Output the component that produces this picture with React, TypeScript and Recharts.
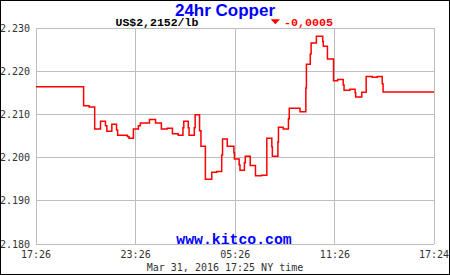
import React from 'react';
import { LineChart, Line, XAxis, YAxis, CartesianGrid } from 'recharts';

// minutes after 17:26 (Mar 30) and copper price in US$/lb
const minutes = [
  0, 172, 192, 212, 233, 251, 256, 274, 291, 295, 330, 336, 352, 370, 377, 410, 432, 453, 474, 493,
  514, 531, 534, 550, 553, 572, 575, 591, 596, 612, 635, 653, 671, 674, 691, 715, 717, 734, 737, 753,
  756, 774, 793, 815, 834, 852, 854, 874, 876, 893, 912, 915, 954, 975, 977, 991, 994, 1013, 1036, 1038,
  1053, 1075, 1090, 1110, 1113, 1134, 1153, 1155, 1177, 1193, 1215, 1233, 1251, 1254, 1438,
];
const prices = [
  2.2164, 2.212, 2.2117, 2.2066, 2.2084, 2.2074, 2.2061, 2.2077, 2.2064, 2.2052, 2.2049, 2.2045, 2.2066, 2.2074, 2.208, 2.2088, 2.208, 2.2066, 2.2068, 2.2055,
  2.2052, 2.2069, 2.2084, 2.2069, 2.2052, 2.2069, 2.2099, 2.2062, 2.2026, 2.195, 2.1966, 2.1968, 2.2006, 2.2043, 2.2026, 2.2011, 2.1997, 2.1983, 2.1971, 2.1988,
  2.2003, 2.1982, 2.1958, 2.1959, 2.2045, 2.2025, 2.2003, 2.2036, 2.207, 2.2066, 2.209, 2.2114, 2.2106, 2.2161, 2.2216, 2.224, 2.2265, 2.2281, 2.2269, 2.2258,
  2.2228, 2.2178, 2.2181, 2.2168, 2.2156, 2.2158, 2.215, 2.214, 2.2151, 2.2188, 2.2186, 2.2188, 2.2171, 2.2152, 2.2152,
];

const xTicks = [0, 360, 720, 1080, 1438];
const xTickLabels = ['17:26', '23:26', '05:26', '11:26', '17:24'];
const yTicks = [2.18, 2.19, 2.2, 2.21, 2.22, 2.23];

const data = minutes.map((t, i) => ({ t, price: prices[i] }));

const monoFont = '"DejaVu Sans Mono", monospace';
const boldMono = '"Liberation Mono", monospace';

export default function App() {
  return (
    <div style={{ position: 'absolute', left: 0, top: 0, width: 450, height: 275, background: '#fff' }}>
      <style>{`.recharts-cartesian-grid line { shape-rendering: crispEdges; }`}</style>
      <LineChart width={450} height={275} data={data} margin={{ top: 28, right: 16, bottom: 0, left: 0 }}>
        <CartesianGrid stroke="#bdbdbd" />
        <XAxis
          dataKey="t"
          type="number"
          domain={[0, 1438]}
          ticks={xTicks}
          interval={0}
          height={31}
          axisLine={false}
          tickLine={false}
          tickSize={0}
          tickMargin={7}
          tick={{ fontSize: 10, fontFamily: monoFont, fill: '#333' }}
          tickFormatter={(v) => xTickLabels[xTicks.indexOf(v)]}
        />
        <YAxis
          type="number"
          domain={[2.18, 2.23]}
          ticks={yTicks}
          interval={0}
          width={36}
          axisLine={false}
          tickLine={false}
          tickSize={0}
          tickMargin={6}
          tick={{ fontSize: 10, fontFamily: monoFont, fill: '#333' }}
          tickFormatter={(v) => v.toFixed(3)}
        />
        <Line
          type="stepAfter"
          dataKey="price"
          stroke="#ff0000"
          strokeWidth={1.5}
          dot={false}
          isAnimationActive={false}
        />
      </LineChart>
      <svg width={450} height={275} style={{ position: 'absolute', left: 0, top: 0, pointerEvents: 'none' }}>
        <text x={225} y={16.3} textAnchor="middle" fontFamily='"Liberation Sans", Arial, sans-serif' fontWeight="bold" fontSize={17} fill="#0000ff">
          24hr Copper
        </text>
        <text x={115.5} y={26} fontFamily={boldMono} fontWeight="bold" fontSize={11.5} fill="#000">
          US$2,2152/lb
        </text>
        <polygon points="270.7,19.3 280,19.3 275.3,24.3" fill="#ff0000" />
        <text x={284} y={26} fontFamily={boldMono} fontWeight="bold" fontSize={11.7} fill="#ff0000">
          -0,0005
        </text>
        <text x={234} y={243.5} textAnchor="middle" fontFamily={boldMono} fontWeight="bold" fontSize={14.8} fill="#0000ff">
          www.kitco.com
        </text>
        <text x={225} y={270.5} textAnchor="middle" fontFamily={monoFont} fontSize={10} fill="#333">
          Mar 31, 2016 17:25 NY time
        </text>
        <rect x={0.5} y={0.5} width={449} height={274} fill="none" stroke="#000" strokeWidth={1} />
      </svg>
    </div>
  );
}
